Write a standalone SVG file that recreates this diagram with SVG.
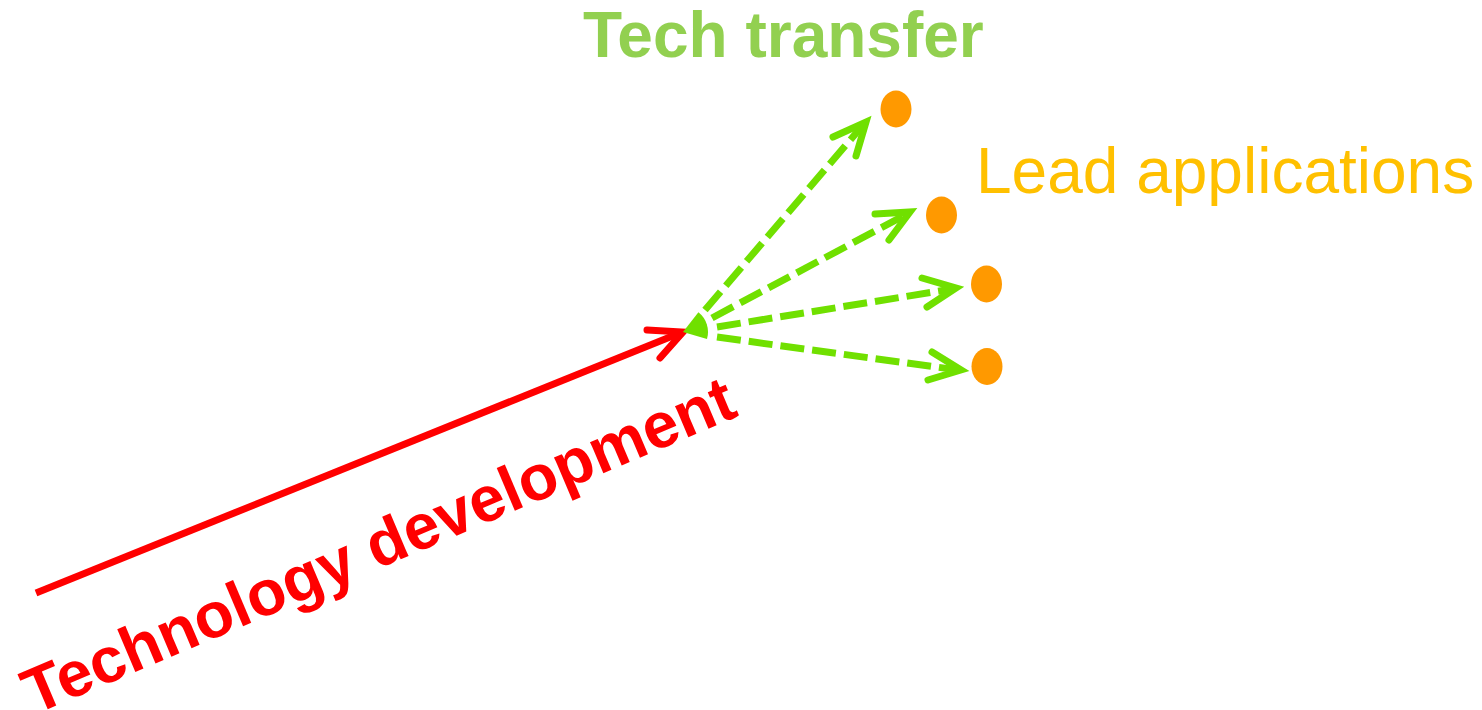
<svg xmlns="http://www.w3.org/2000/svg" width="1482" height="710" viewBox="0 0 1482 710">
<style>
.lbl{font-family:"Liberation Sans",Arial,sans-serif;}
.dash{fill:none;stroke:#70E000;stroke-width:7;stroke-dasharray:24 8;}
.head{fill:none;stroke:#70E000;stroke-width:7;stroke-linecap:round;stroke-linejoin:miter;}
.dot{fill:#FF9900;}
</style>
<rect width="1482" height="710" fill="#ffffff"/>
<g id="connectors">
  <g id="tech-dev-arrow">
    <line x1="36" y1="593" x2="680" y2="333" stroke="#FF0000" stroke-width="7"/>
    <polyline points="647,330 683,332 660,358" fill="none" stroke="#FF0000" stroke-width="7" stroke-linecap="round" stroke-linejoin="miter"/>
  </g>
  <path id="origin-wedge" d="M683,332 L698.4,312.3 A25,25 0 0 1 707,338.9 Z" fill="#70E000"/>
  <g id="arrow1">
    <line class="dash" x1="705" y1="310" x2="863" y2="125"/>
    <polyline class="head" points="833,137 866,122 856,156"/>
  </g>
  <g id="arrow2">
    <line class="dash" x1="712" y1="318" x2="907" y2="214"/>
    <polyline class="head" points="875,214 910,212 889,240"/>
  </g>
  <g id="arrow3">
    <line class="dash" x1="717" y1="327" x2="952" y2="289"/>
    <polyline class="head" points="922,278 956,288 927,307"/>
  </g>
  <g id="arrow4">
    <line class="dash" x1="717" y1="337" x2="958" y2="370"/>
    <polyline class="head" points="932,352 961,370 928,380"/>
  </g>
</g>
<g id="dot1"><ellipse class="dot" cx="896" cy="109" rx="15.5" ry="18.5"/></g>
<g id="dot2"><ellipse class="dot" cx="941.5" cy="215" rx="15.5" ry="18.5"/></g>
<g id="dot3"><ellipse class="dot" cx="986.5" cy="284" rx="15.5" ry="18.5"/></g>
<g id="dot4"><ellipse class="dot" cx="987" cy="366.5" rx="15.5" ry="18.5"/></g>
<g id="tech-transfer-label">
  <text class="lbl" x="583" y="57" font-size="64" font-weight="bold" fill="#92D050">Tech transfer</text>
</g>
<g id="lead-applications-label">
  <text class="lbl" x="976" y="193" font-size="64" fill="#FFC000">Lead applications</text>
</g>
<g id="technology-development-label">
  <text class="lbl" transform="translate(34,715) rotate(-23)" font-size="64" font-weight="bold" fill="#FF0000">Technology development</text>
</g>
</svg>
